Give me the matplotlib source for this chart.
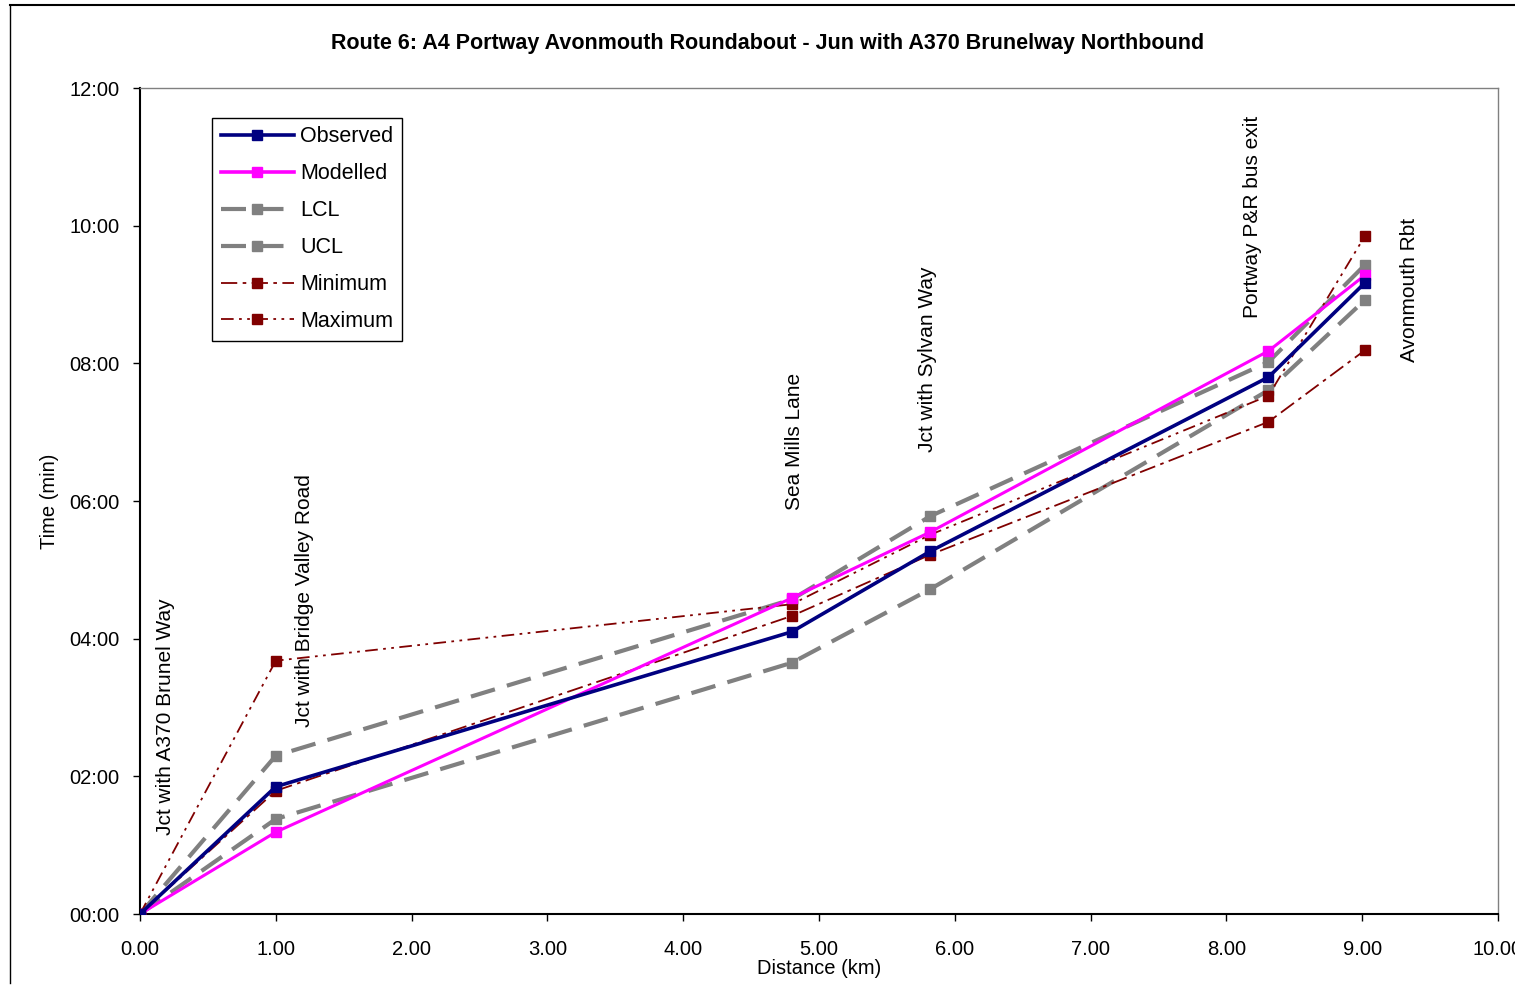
import matplotlib.pyplot as plt
import matplotlib.lines as mlines
from matplotlib.ticker import FuncFormatter, MultipleLocator

plt.rcParams['font.family'] = ['Liberation Sans', 'DejaVu Sans']

# distance along route (km) and journey time (minutes)
distance = [0.0, 1.0, 4.80, 5.82, 8.31, 9.02]
observed = [0.0, 1.85, 4.10, 5.27, 7.80, 9.17]
modelled = [0.0, 1.19, 4.59, 5.55, 8.18, 9.28]
lcl = [0.0, 1.38, 3.65, 4.72, 7.61, 8.92]
ucl = [0.0, 2.30, 4.57, 5.78, 8.02, 9.43]
minimum = [0.0, 1.79, 4.33, 5.22, 7.15, 8.19]
maximum = [0.0, 3.68, 4.50, 5.51, 7.53, 9.85]

# timing point labels
labels = ['Jct with A370 Brunel Way', 'Jct with Bridge Valley Road', 'Sea Mills Lane',
          'Jct with Sylvan Way', 'Portway P&R bus exit', 'Avonmouth Rbt']
label_x = [0.19, 1.21, 4.82, 5.80, 8.19, 9.35]
label_y = [1.15, 2.72, 5.87, 6.71, 8.66, 8.02]

fig = plt.figure(figsize=(15.15, 9.85), dpi=100)
ax = fig.add_axes([140/1515, 1-914/985, 1358/1515, 826/985])

ms = 7
ax.plot(distance, ucl, color='#808080', lw=3, ls=(0, (6, 3)), marker='s', ms=ms, label='UCL', zorder=2)
ax.plot(distance, lcl, color='#808080', lw=3, ls=(0, (6, 3)), marker='s', ms=ms, label='LCL', zorder=2)
ax.plot(distance, maximum, color='#800000', lw=1.3, ls=(0, (7, 3, 1.5, 3, 1.5, 3)), marker='s', ms=ms, zorder=3)
ax.plot(distance, minimum, color='#800000', lw=1.3, ls=(0, (9, 3, 2, 3)), marker='s', ms=ms, zorder=3)
ax.plot(distance, modelled, color='#FF00FF', lw=2.2, marker='s', ms=ms, zorder=4)
ax.plot(distance, observed, color='#000080', lw=2.6, marker='s', ms=ms, zorder=5)

for t, x, y in zip(labels, label_x, label_y):
    ax.text(x, y, t, rotation=90, ha='center', va='bottom', fontsize=15)

ax.set_xlim(0, 10)
ax.set_ylim(0, 12)
ax.xaxis.set_major_locator(MultipleLocator(1))
ax.yaxis.set_major_locator(MultipleLocator(2))
ax.xaxis.set_major_formatter(FuncFormatter(lambda v, p: '%.2f' % v))
ax.yaxis.set_major_formatter(FuncFormatter(lambda v, p: '%02d:00' % int(round(v))))
ax.tick_params(labelsize=14.5, direction='out', length=5, width=1)
ax.tick_params(axis='x', pad=14)
ax.tick_params(axis='y', pad=10)
for s in ['top', 'right']:
    ax.spines[s].set_color('#808080')
    ax.spines[s].set_linewidth(1)
for s in ['left', 'bottom']:
    ax.spines[s].set_linewidth(1.5)
ax.set_xlabel('Distance (km)', fontsize=14.5, labelpad=0)
ax.set_ylabel('Time (min)', fontsize=14.5, labelpad=7)

fig.text(768/1515, 1-44/985, 'Route 6: A4 Portway Avonmouth Roundabout - Jun with A370 Brunelway Northbound',
         ha='center', va='center', fontsize=15.5, fontweight='bold')

handles = [
    mlines.Line2D([], [], color='#000080', lw=2.6, marker='s', ms=ms),
    mlines.Line2D([], [], color='#FF00FF', lw=2.6, marker='s', ms=ms),
    mlines.Line2D([], [], color='#808080', lw=3, ls=(0, (6, 3)), marker='s', ms=ms),
    mlines.Line2D([], [], color='#808080', lw=3, ls=(0, (6, 3)), marker='s', ms=ms),
    mlines.Line2D([], [], color='#800000', lw=1.3, ls=(0, (9, 3, 2, 3)), marker='s', ms=ms),
    mlines.Line2D([], [], color='#800000', lw=1.3, ls=(0, (7, 3, 1.5, 3, 1.5, 3)), marker='s', ms=ms),
]
leg = ax.legend(handles, ['Observed', 'Modelled', 'LCL', 'UCL', 'Minimum', 'Maximum'],
                loc='upper left', bbox_to_anchor=(0.053, 0.964), borderaxespad=0,
                fontsize=15.5, fancybox=False, edgecolor='black', framealpha=1,
                handlelength=3.4, labelspacing=0.74, borderpad=0.4, handletextpad=0.3)
leg.get_frame().set_linewidth(1)

# outer chart border
fig.add_artist(mlines.Line2D([10/1515, 1], [1-5/985, 1-5/985], color='black', lw=1.5))
fig.add_artist(mlines.Line2D([10/1515, 10/1515], [1-5/985, 1-983/985], color='black', lw=1))

fig.savefig('out.png', dpi=100)
